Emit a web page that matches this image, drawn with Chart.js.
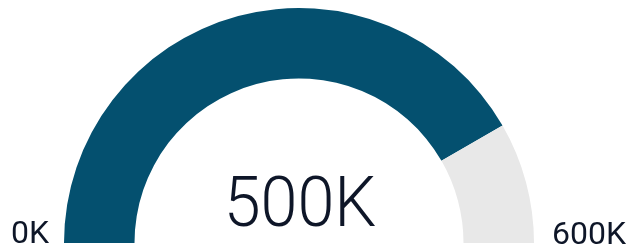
<!DOCTYPE html>
<html>
<head>
<meta charset="utf-8">
<script src="https://cdn.jsdelivr.net/npm/chart.js@4/dist/chart.umd.min.js"></script>
<style>
  html, body { margin: 0; padding: 0; background: #fff; }
  #wrap { width: 630px; height: 252px; position: relative; }
</style>
</head>
<body>
<div id="wrap"><canvas id="gauge"></canvas></div>
<script>
// gauge data
const gaugeLabels = ['Value', 'Remaining'];
const gaugeValues = [500, 100];
const gaugeColors = ['#04506f', '#e8e8e8'];
const minLabel = ['0K'];
const maxLabel = ['600K'];
const valueLabel = ['500K'];

// draw the texts on top of the gauge
const gaugeText = {
  id: 'gaugeText',
  afterDraw(chart) {
    const ctx = chart.ctx;
    const arc = chart.getDatasetMeta(0).data[0];
    ctx.save();
    ctx.fillStyle = '#0e1628';
    ctx.textBaseline = 'alphabetic';

    // big value, a bit narrowed
    ctx.save();
    ctx.translate(arc.x + 1, 226);
    ctx.scale(0.95, 1);
    ctx.font = '300 70px Roboto';
    ctx.textAlign = 'center';
    ctx.fillText(valueLabel[0], 0, 0);
    ctx.restore();

    ctx.font = '400 32px Roboto';
    ctx.textAlign = 'left';
    ctx.fillText(minLabel[0], 11, 243);
    ctx.textAlign = 'right';
    ctx.fillText(maxLabel[0], 626, 244);
    ctx.restore();
  }
};

new Chart(document.getElementById('gauge'), {
  type: 'doughnut',
  data: {
    labels: gaugeLabels,
    datasets: [{
      data: gaugeValues,
      backgroundColor: gaugeColors,
      borderWidth: 0,
      hoverOffset: 0
    }]
  },
  options: {
    responsive: true,
    maintainAspectRatio: false,
    animation: false,
    rotation: -90,
    circumference: 180,
    cutout: '70%',
    layout: { padding: { top: 8, bottom: 9, left: 0, right: 32 } },
    plugins: {
      legend: { display: false },
      tooltip: { enabled: false }
    }
  },
  plugins: [gaugeText]
});
</script>
</body>
</html>
